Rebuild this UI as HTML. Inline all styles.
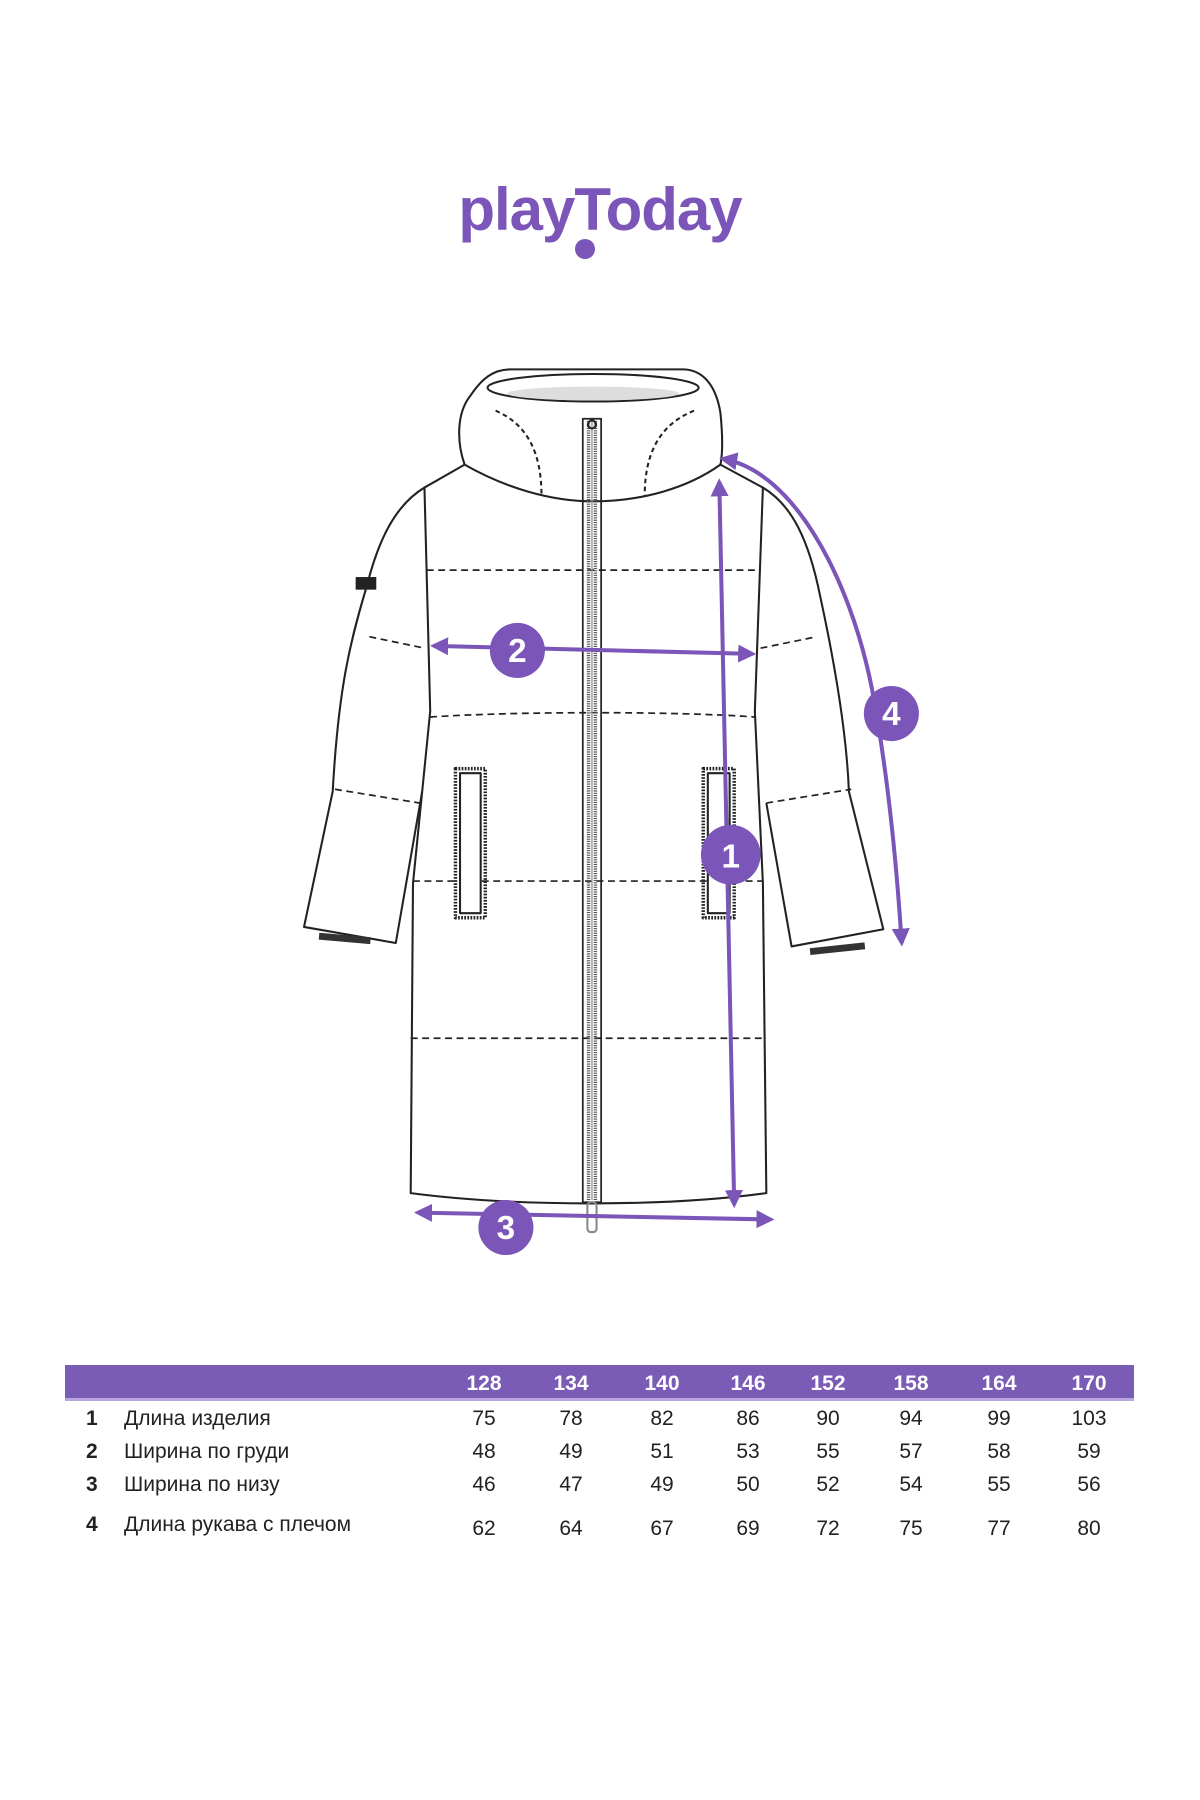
<!DOCTYPE html>
<html><head><meta charset="utf-8"><style>
html,body{margin:0;padding:0;background:#fff;}
body{width:1200px;height:1800px;position:relative;overflow:hidden;font-family:"Liberation Sans",sans-serif;}
</style></head><body>
<svg width="1200" height="1800" viewBox="0 0 1200 1800" xmlns="http://www.w3.org/2000/svg" style="position:absolute;left:0;top:0">
<defs>
<marker id="ah" viewBox="0 0 10 10" refX="8" refY="5" markerWidth="4.5" markerHeight="4.5" orient="auto-start-reverse"><path d="M0,0 L10,5 L0,10 z" fill="#7b55b8"/></marker>
</defs>
<text x="600" y="230" text-anchor="middle" font-family="Liberation Sans, sans-serif" font-weight="bold" font-size="60" fill="#7b55b8" letter-spacing="-1">playToday</text>
<circle cx="585" cy="249" r="10" fill="#7b55b8"/>

<g transform="scale(1.1472)">
<g fill="none" stroke="#222" stroke-width="1.8" stroke-linejoin="round">
<path d="M405,405 C398,385 398,360 410,345 C420,330 430,322 445,322 L595,322 C612,322 624,335 628,360 C630,380 630,395 628,405"/>
<ellipse cx="517" cy="338" rx="92" ry="12" fill="#fff"/>
<ellipse cx="517" cy="343" rx="75" ry="6" fill="#ddd" stroke="none"/>
<path d="M405,405 C440,425 480,437 517,437 C560,437 600,425 628,405"/>
<path d="M432,358 C460,370 472,395 472,432" stroke-dasharray="4,3"/>
<path d="M605,358 C575,370 562,395 562,432" stroke-dasharray="4,3"/>
<path d="M405,405 L370,425 L375,620 L360,770 L358,1040 C450,1052 580,1052 668,1040 L665,770 L658,620 L665,425 L628,405"/>
<path d="M370,425 C345,440 330,470 320,510 C305,560 295,600 290,690 L265,808 L345,822 L368,690"/>
<path d="M665,425 C690,440 705,470 715,520 C728,580 738,640 740,690 L770,810 L690,825 L668,700"/>
<g stroke-dasharray="6,4" stroke-width="1.5">
<path d="M372,497 L663,497"/>
<path d="M375,625 C450,620 590,620 658,625"/>
<path d="M360,768 L665,768"/>
<path d="M358,905 L667,905"/>
<path d="M322,555 L370,565"/>
<path d="M292,688 L366,700"/>
<path d="M663,565 L712,555"/>
<path d="M668,700 L742,688"/>
</g>
<rect x="397" y="670" width="26" height="130" stroke-width="3" stroke-dasharray="1.5,1.2"/>
<rect x="401" y="674" width="18" height="122" fill="#fff"/>
<rect x="613" y="670" width="27" height="130" stroke-width="3" stroke-dasharray="1.5,1.2"/>
<rect x="617" y="674" width="19" height="122" fill="#fff"/>
<rect x="508" y="365" width="16" height="683" stroke-width="1.5"/>
<line x1="513" y1="367" x2="513" y2="1046" stroke="#555" stroke-width="3" stroke-dasharray="1,1"/>
<line x1="519" y1="367" x2="519" y2="1046" stroke="#555" stroke-width="3" stroke-dasharray="1,1"/>
<line x1="516" y1="367" x2="516" y2="1046" stroke="#999" stroke-width="1.2"/>
<rect x="512" y="1048" width="8" height="26" rx="3" stroke="#888"/>
<circle cx="516" cy="370" r="3.5"/>
</g>
<rect x="310" y="503" width="18" height="11" fill="#222"/>
<rect x="278" y="815" width="45" height="6" fill="#333" transform="rotate(5 300 818)"/>
<rect x="706" y="824" width="48" height="6" fill="#333" transform="rotate(-6 730 827)"/>

<g stroke="#7b55b8" stroke-width="3.5" fill="none">
<line x1="627" y1="420" x2="640" y2="1050" marker-start="url(#ah)" marker-end="url(#ah)"/>
<line x1="378" y1="563" x2="656" y2="570" marker-start="url(#ah)" marker-end="url(#ah)"/>
<line x1="364" y1="1057" x2="672" y2="1063" marker-start="url(#ah)" marker-end="url(#ah)"/>
<path d="M630,400 C690,410 740,500 760,600 C775,680 782,760 786,822" marker-start="url(#ah)" marker-end="url(#ah)"/>
</g>
<g fill="#7b55b8">
<circle cx="637" cy="745" r="26"/>
<circle cx="451" cy="567" r="24"/>
<circle cx="441" cy="1070" r="24"/>
<circle cx="777" cy="622" r="24"/>
</g>
<g fill="#fff" font-family="Liberation Sans, sans-serif" font-weight="bold" font-size="29" text-anchor="middle">
<text x="637" y="756">1</text>
<text x="451" y="577">2</text>
<text x="441" y="1080">3</text>
<text x="777" y="632">4</text>
</g>
</g>

<rect x="65" y="1365" width="1069" height="33" fill="#7a5bb5"/>
<rect x="65" y="1398" width="1069" height="3" fill="#b9a6de"/>
<g font-family="Liberation Sans, sans-serif" font-size="21" font-weight="bold" fill="#fff" text-anchor="middle">
<text x="484" y="1390">128</text><text x="571" y="1390">134</text><text x="662" y="1390">140</text><text x="748" y="1390">146</text><text x="828" y="1390">152</text><text x="911" y="1390">158</text><text x="999" y="1390">164</text><text x="1089" y="1390">170</text>
</g>
<g font-family="Liberation Sans, sans-serif" font-size="21" fill="#222">
<g font-weight="bold"><text x="86" y="1425">1</text><text x="86" y="1458">2</text><text x="86" y="1491">3</text><text x="86" y="1531">4</text></g>
<text x="124" y="1425">Длина изделия</text>
<text x="124" y="1458">Ширина по груди</text>
<text x="124" y="1491">Ширина по низу</text>
<text x="124" y="1531">Длина рукава с плечом</text>
<g text-anchor="middle">
<text x="484" y="1425">75</text><text x="571" y="1425">78</text><text x="662" y="1425">82</text><text x="748" y="1425">86</text><text x="828" y="1425">90</text><text x="911" y="1425">94</text><text x="999" y="1425">99</text><text x="1089" y="1425">103</text>
<text x="484" y="1458">48</text><text x="571" y="1458">49</text><text x="662" y="1458">51</text><text x="748" y="1458">53</text><text x="828" y="1458">55</text><text x="911" y="1458">57</text><text x="999" y="1458">58</text><text x="1089" y="1458">59</text>
<text x="484" y="1491">46</text><text x="571" y="1491">47</text><text x="662" y="1491">49</text><text x="748" y="1491">50</text><text x="828" y="1491">52</text><text x="911" y="1491">54</text><text x="999" y="1491">55</text><text x="1089" y="1491">56</text>
<text x="484" y="1535">62</text><text x="571" y="1535">64</text><text x="662" y="1535">67</text><text x="748" y="1535">69</text><text x="828" y="1535">72</text><text x="911" y="1535">75</text><text x="999" y="1535">77</text><text x="1089" y="1535">80</text>
</g>
</g>
</svg>
</body></html>
